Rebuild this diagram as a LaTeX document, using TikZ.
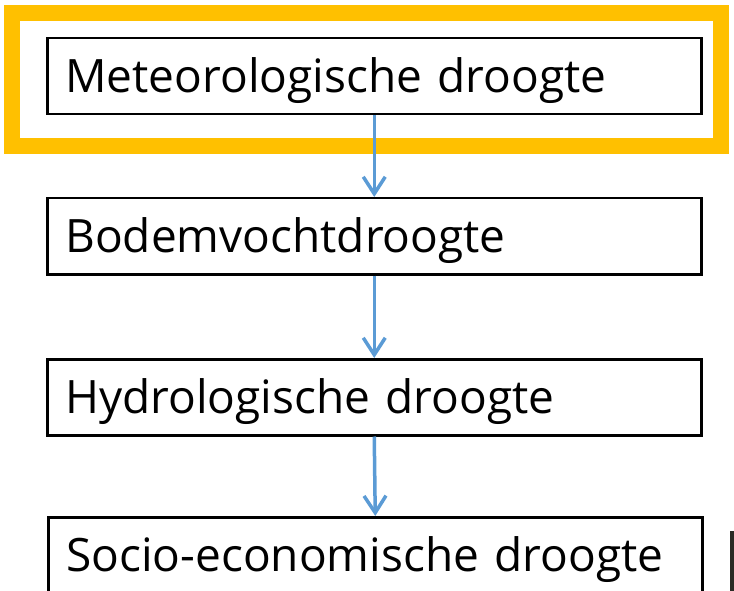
\documentclass[tikz,border=0pt]{standalone}
\usepackage{fontspec}
\setmainfont{Open Sans}
\usetikzlibrary{arrows.meta}
\definecolor{frameorange}{HTML}{FFC000}
\definecolor{arrowblue}{HTML}{5B9BD5}
\definecolor{edgedark}{HTML}{2B2B25}

\begin{document}
\begin{tikzpicture}[x=1pt,y=-1pt,
  droughtbox/.style={
    draw=black,
    line width=2.5pt,
    fill=white,
    anchor=north west,
    minimum width=654pt,
    minimum height=76pt,
    text width=618pt,
    text height=42pt,
    text depth=10pt,
    inner xsep=18pt,
    inner ysep=2pt,
    align=left,
    font=\fontsize{46}{52}\selectfont
  },
  flow/.style={draw=arrowblue, line width=3.5pt,
    -{Straight Barb[length=17pt,width=22pt]}}
]
  \useasboundingbox (0,0) rectangle (734,591);

  % highlight round the first kind of drought
  \draw[frameorange, line width=16pt] (12,13) rectangle (721,146);

  \node[droughtbox] (met) at (46,37) {Meteorologische droogte};
  \node[droughtbox] (bod) at (46,197) {Bodemvochtdroogte};
  \node[droughtbox] (hyd) at (46,358) {Hydrologische droogte};
  \node[droughtbox] (soc) at (47,516) {Socio-economische droogte};

  \draw[flow] (met.south) -- (bod.north);
  \draw[flow] (bod.south) -- (hyd.north);
  \draw[flow] (hyd.south) -- (soc.north);

  % cut-off edge at the lower right
  \fill[edgedark] (730,531) rectangle (734,591);
\end{tikzpicture}
\end{document}
